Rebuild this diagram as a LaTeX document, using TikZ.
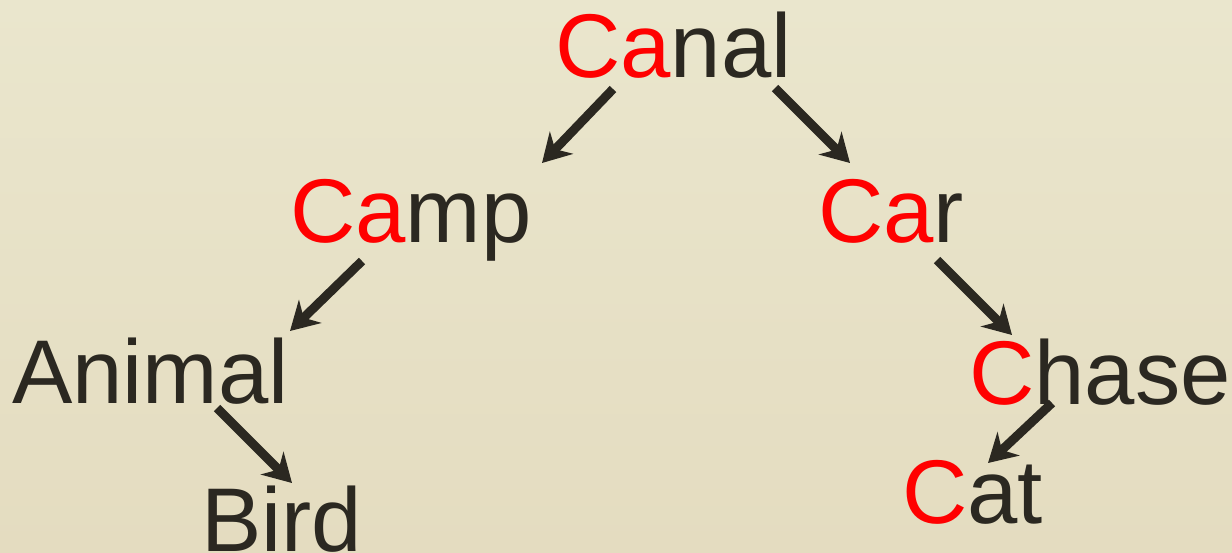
\documentclass[tikz,border=0pt]{standalone}
\usepackage{fontspec}
\setmainfont{Liberation Sans}
\usetikzlibrary{arrows.meta}
\definecolor{ink}{RGB}{43,40,33}
\definecolor{hi}{RGB}{255,0,0}
\definecolor{papertop}{RGB}{234,230,205}
\definecolor{paperbot}{RGB}{228,220,192}
\begin{document}
\begin{tikzpicture}[x=1pt,y=-1pt,
  word/.style={anchor=base west,inner sep=0pt,text=ink,
    font=\fontsize{90.5pt}{100pt}\selectfont},
  arr/.style={draw=ink,line width=9pt,
    -{Stealth[length=28pt,width=32pt,inset=9pt]}}]
  % paper background
  \shade[top color=papertop,bottom color=paperbot] (0,0) rectangle (1232,552);
  \useasboundingbox (0,0) rectangle (1232,552);

  % words of the tree
  \node[word] (canal)  at (555,77)  {\textcolor{hi}{Ca}nal};
  \node[word] (camp)   at (290,242) {\textcolor{hi}{Ca}mp};
  \node[word] (car)    at (818,242) {\textcolor{hi}{Ca}r};
  \node[word] (animal) at (12,403)  {Animal};
  \node[word] (bird)   at (201,551) {Bird};
  \node[word] (chase)  at (969,404) {\textcolor{hi}{C}hase};
  \node[word] (cat)    at (902,523) {\textcolor{hi}{C}at};

  % branches
  \draw[arr] ([shift={(58,12)}]canal.base west)  -- ([shift={(252,-79)}]camp.base west);
  \draw[arr] ([shift={(220,11)}]canal.base west) -- ([shift={(32,-79)}]car.base west);
  \draw[arr] ([shift={(72,19)}]camp.base west)   -- ([shift={(278,-72)}]animal.base west);
  \draw[arr] ([shift={(119,18)}]car.base west)   -- ([shift={(43,-69)}]chase.base west);
  \draw[arr] ([shift={(205,5)}]animal.base west) -- ([shift={(91,-68)}]bird.base west);
  \draw[arr] ([shift={(83,-1)}]chase.base west)  -- ([shift={(86,-60)}]cat.base west);
\end{tikzpicture}
\end{document}
